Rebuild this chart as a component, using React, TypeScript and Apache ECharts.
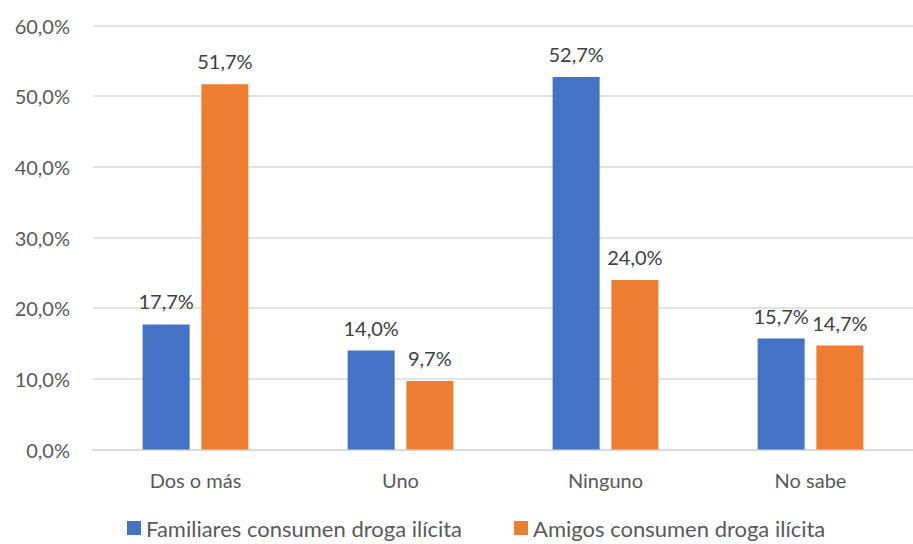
import React, { useEffect, useRef } from "react";
import * as echarts from "echarts";

const categories = ["Dos o más", "Uno", "Ninguno", "No sabe"];
const familiares = [17.7, 14.0, 52.7, 15.7];
const amigos = [51.7, 9.7, 24.0, 14.7];
const seriesNames = ["Familiares consumen droga ilícita", "Amigos consumen droga ilícita"];

const fmt = (v: number) => v.toFixed(1).replace(".", ",") + "%";
const FONT = "Lato";
const TXT = "#595959";

export default function App() {
  const ref = useRef<HTMLDivElement>(null);
  useEffect(() => {
    const chart = echarts.init(ref.current!, null, { renderer: "svg" });
    const label = {
      show: true,
      position: "top" as const,
      distance: 13,
      color: "#404040",
      fontFamily: FONT,
      fontSize: 20,
      formatter: (p: any) => fmt(p.value),
    };
    chart.setOption({
      animation: false,
      textStyle: { fontFamily: FONT },
      grid: { left: 93, top: 25.5, right: -11, bottom: 94.5, containLabel: false },
      legend: {
        top: 512,
        left: 122,
        itemWidth: 14,
        itemHeight: 14,
        itemGap: 52,
        icon: "rect",
        textStyle: { color: TXT, fontFamily: FONT, fontSize: 22 },
        data: seriesNames,
      },
      xAxis: {
        type: "category",
        data: categories,
        axisLine: { lineStyle: { color: "#d9d9d9", width: 1.5 } },
        axisTick: { show: false },
        axisLabel: { color: TXT, fontFamily: FONT, fontSize: 20, margin: 20 },
      },
      yAxis: {
        type: "value",
        min: 0,
        max: 60,
        interval: 10,
        axisLine: { show: false },
        axisTick: { show: false },
        splitLine: { lineStyle: { color: "#d9d9d9", width: 1.5 } },
        axisLabel: { color: TXT, fontFamily: FONT, fontSize: 20, margin: 23, formatter: (v: number) => fmt(v) },
      },
      series: [
        {
          name: seriesNames[0],
          type: "bar",
          data: familiares,
          barWidth: 47,
          barGap: "25%",
          itemStyle: { color: "#4472C4" },
          label,
        },
        {
          name: seriesNames[1],
          type: "bar",
          data: amigos,
          barWidth: 47,
          barGap: "25%",
          itemStyle: { color: "#ED7D31" },
          label,
        },
      ],
    });
    return () => chart.dispose();
  }, []);
  return (
    <div
      ref={ref}
      style={{ position: "absolute", left: 0, top: 0, width: 913, height: 544, background: "#fff" }}
    />
  );
}
